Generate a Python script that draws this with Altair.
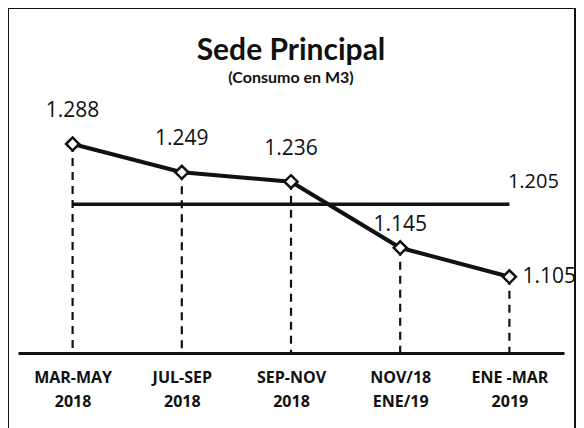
import json
import altair as alt
import pandas as pd

categories = [["MAR-MAY", "2018"], ["JUL-SEP", "2018"], ["SEP-NOV", "2018"], ["NOV/18", "ENE/19"], ["ENE -MAR", "2019"]]
values = [1.288, 1.249, 1.236, 1.145, 1.105]
label_side = ["top", "top", "top", "near", "right"]
average = 1.205
baseline = 1.0

idx = list(range(len(values)))
df = pd.DataFrame({"idx": idx, "val": values, "side": label_side, "base": [baseline] * len(values)})
avg_df = pd.DataFrame({"idx": [idx[0], idx[-1]], "val": [average, average]})
avg_lbl_df = pd.DataFrame({"idx": [idx[-1]], "val": [average]})

xscale = alt.Scale(domain=[-0.5, len(values) - 0.5], nice=False, zero=False)
yscale = alt.Scale(domain=[1.0, 1.35], nice=False, zero=False)

label_expr = json.dumps(categories) + "[datum.value]"

x_enc = alt.X("idx:Q", scale=xscale,
              axis=alt.Axis(title=None, values=idx, labelExpr=label_expr, labelAngle=0,
                            labelFont="Open Sans", labelFontSize=16, labelFontWeight="bold",
                            labelColor="#111", labelLineHeight=24, labelPadding=16,
                            ticks=False, domainColor="#111", domainWidth=3, grid=False))
x_plain = alt.X("idx:Q", scale=xscale)
y_enc = alt.Y("val:Q", scale=yscale, axis=None)

base = alt.Chart(df)

border = alt.Chart(pd.DataFrame({"k": [0]})).mark_rect(fill=None, stroke="#111", strokeWidth=2).encode(
    x=alt.value(-10), x2=alt.value(557), y=alt.value(-91), y2=alt.value(340))

drops = base.mark_rule(color="#111", strokeWidth=2.2, strokeDash=[8, 6]).encode(
    x=x_enc, y=y_enc, y2="base:Q")

avg_line = alt.Chart(avg_df).mark_line(color="#111", strokeWidth=3.5).encode(x=x_plain, y=y_enc)
avg_label = alt.Chart(avg_lbl_df).mark_text(font="Open Sans", fontSize=20, color="#111", dx=24, dy=-22).encode(
    x=x_plain, y=y_enc, text=alt.Text("val:Q", format=".3f"))

line = base.mark_line(color="#111", strokeWidth=4).encode(x=x_enc, y=y_enc)
points = base.mark_point(shape="diamond", size=170, filled=True, fill="white", stroke="#111",
                         strokeWidth=2.5, opacity=1).encode(x=x_enc, y=y_enc)

top_labels = base.transform_filter(alt.datum.side == "top").mark_text(
    font="Open Sans", fontSize=21, color="#111", dy=-33).encode(
    x=x_enc, y=y_enc, text=alt.Text("val:Q", format=".3f"))
near_labels = base.transform_filter(alt.datum.side == "near").mark_text(
    font="Open Sans", fontSize=21, color="#111", dy=-23).encode(
    x=x_enc, y=y_enc, text=alt.Text("val:Q", format=".3f"))
right_labels = base.transform_filter(alt.datum.side == "right").mark_text(
    font="Open Sans", fontSize=21, color="#111", dx=13, align="left", baseline="middle").encode(
    x=x_enc, y=y_enc, text=alt.Text("val:Q", format=".3f"))

chart = alt.layer(border, drops, avg_line, line, points, top_labels, near_labels, right_labels, avg_label).properties(
    width=546, height=254,
    autosize=alt.AutoSizeParams(type="none"),
    padding={"left": 10, "top": 91, "right": 12, "bottom": 75},
    title=alt.TitleParams(text="Sede Principal", subtitle="(Consumo en M3)",
                          font="Lato", fontSize=30, fontWeight="bold", color="#111",
                          subtitleFont="Lato", subtitleFontSize=16, subtitleFontWeight="bold",
                          subtitleColor="#111", subtitlePadding=4, anchor="middle", offset=-79),
).configure_view(stroke=None)

chart.save("out.html", embed_options={"renderer": "svg", "actions": False})
